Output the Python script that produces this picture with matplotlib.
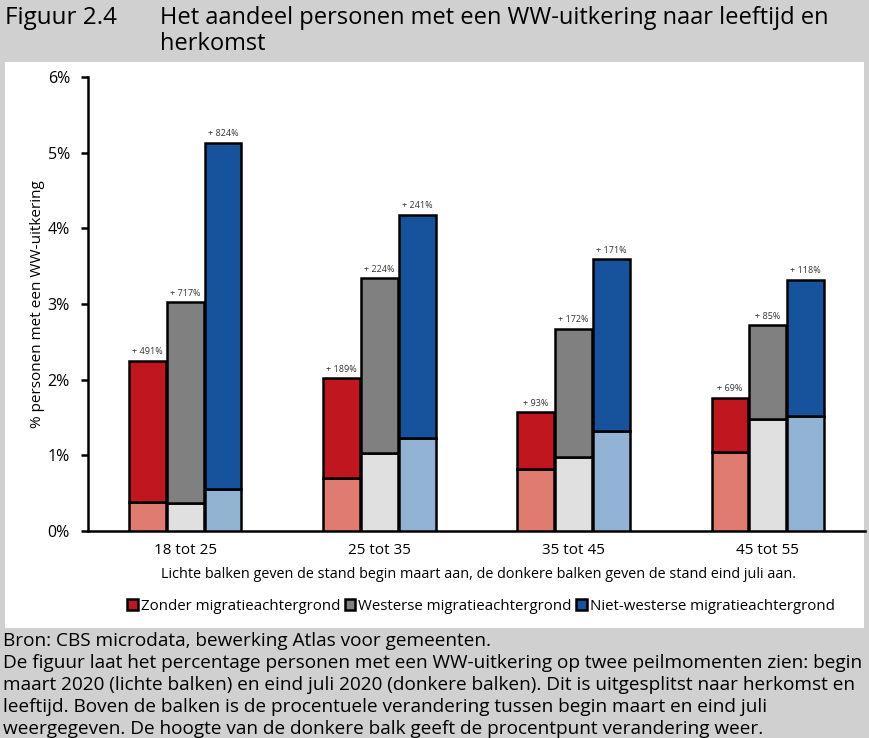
"""
Figuur 2.4: aandeel personen met een WW-uitkering naar leeftijd en herkomst.
"""

import numpy as np
import matplotlib.pyplot as plt
from matplotlib.patches import Patch, Rectangle

plt.rcParams['font.family'] = ['Open Sans', 'DejaVu Sans']

#Data (percentages), begin maart = light bars, eind juli = total bar height
ageGroups = ['18 tot 25', '25 tot 35', '35 tot 45', '45 tot 55']
seriesNames = ['Zonder migratieachtergrond', 'Westerse migratieachtergrond', 'Niet-westerse migratieachtergrond']
beginMaart = {
  'zonder': [0.38, 0.70, 0.82, 1.04],
  'westers': [0.37, 1.03, 0.98, 1.48],
  'nietwesters': [0.555, 1.23, 1.32, 1.52],
}
eindJuli = {
  'zonder': [2.25, 2.02, 1.57, 1.76],
  'westers': [3.02, 3.34, 2.67, 2.72],
  'nietwesters': [5.13, 4.18, 3.59, 3.32],
}
changeLabels = {
  'zonder': ['+ 491%', '+ 189%', '+ 93%', '+ 69%'],
  'westers': ['+ 717%', '+ 224%', '+ 172%', '+ 85%'],
  'nietwesters': ['+ 824%', '+ 241%', '+ 171%', '+ 118%'],
}
yTicks = [0, 1, 2, 3, 4, 5, 6]

darkColors = {'zonder': '#C0161F', 'westers': '#808080', 'nietwesters': '#17539C'}
lightColors = {'zonder': '#E07B6F', 'westers': '#E0E0E0', 'nietwesters': '#92B3D4'}

fig = plt.figure(figsize=(8.69, 7.38), dpi=100)
fig.patch.set_facecolor('#D0D0D0')
#White chart panel (behind the axes)
fig.patches.append(Rectangle((5/869, 1-628/738), 859/869, (628-62)/738,
                             transform=fig.transFigure, facecolor='white', edgecolor='none', zorder=-10))

ax = fig.add_axes([88/869, 1-531/738, 777/869, (531-77)/738])
ax.set_facecolor('none')

x = np.arange(len(ageGroups))
width = 0.19
offsets = [-0.195, 0.0, 0.195]
for off, key in zip(offsets, beginMaart):
  begin = np.array(beginMaart[key])
  end = np.array(eindJuli[key])
  ax.bar(x+off, begin, width, color=lightColors[key], edgecolor='black', linewidth=1.8, zorder=3)
  ax.bar(x+off, end-begin, width, bottom=begin, color=darkColors[key], edgecolor='black', linewidth=1.8, zorder=3)
  for xi, yi, lab in zip(x+off, end, changeLabels[key]):
    ax.text(xi, yi+0.06, lab, ha='center', va='bottom', fontsize=6.5, color='#333333')

ax.set_xlim(-0.5, 3.5)
ax.set_ylim(0, 6)
ax.set_yticks(yTicks)
ax.set_yticklabels([f'{t}%' for t in yTicks], fontsize=11.5)
ax.set_xticks(x)
ax.set_xticklabels(ageGroups, fontsize=11)
ax.tick_params(axis='x', length=0, pad=9)
ax.tick_params(axis='y', length=5, width=1.8, direction='out', pad=8)
for s in ['top', 'right']:
  ax.spines[s].set_visible(False)
ax.spines['left'].set_linewidth(1.8)
ax.spines['bottom'].set_linewidth(1.8)
ax.set_ylabel('% personen met een WW-uitkering', fontsize=11, labelpad=2)

#Header
fig.text(5/869, 1-18/738, 'Figuur 2.4', fontsize=17.5, va='center', ha='left')
fig.text(160/869, 1-18/738, 'Het aandeel personen met een WW-uitkering naar leeftijd en', fontsize=17, va='center', ha='left')
fig.text(160/869, 1-44/738, 'herkomst', fontsize=17, va='center', ha='left')

#Note below x axis
fig.text(478/869, 1-575/738, 'Lichte balken geven de stand begin maart aan, de donkere balken geven de stand eind juli aan.',
         fontsize=10.4, ha='center', va='center')

#Legend
handles = [Patch(facecolor=darkColors[k], edgecolor='black', linewidth=1.8) for k in darkColors]
fig.legend(handles, seriesNames, loc='center', bbox_to_anchor=(481/869, 1-606/738), ncols=3, frameon=False,
           fontsize=10.8, handlelength=0.7, handleheight=0.7, handletextpad=0.2, columnspacing=0.3)

#Footer
footer = ['Bron: CBS microdata, bewerking Atlas voor gemeenten.',
          'De figuur laat het percentage personen met een WW-uitkering op twee peilmomenten zien: begin',
          'maart 2020 (lichte balken) en eind juli 2020 (donkere balken). Dit is uitgesplitst naar herkomst en',
          'leeftijd. Boven de balken is de procentuele verandering tussen begin maart en eind juli',
          'weergegeven. De hoogte van de donkere balk geeft de procentpunt verandering weer.']
for i, line in enumerate(footer):
  fig.text(3/869, 1-(641+22*i)/738, line, fontsize=13.7, ha='left', va='center')

fig.savefig('out.png', dpi=100, facecolor=fig.get_facecolor())
